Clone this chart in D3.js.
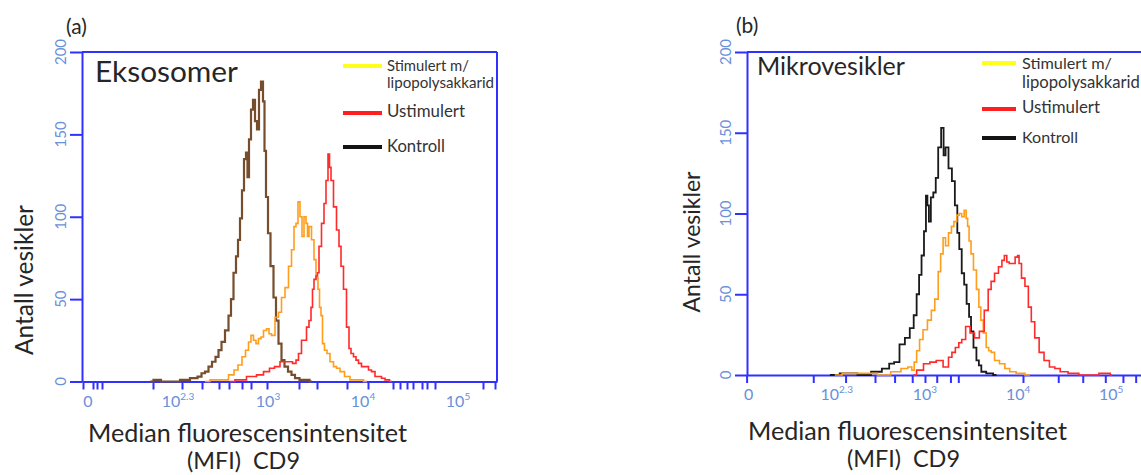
<!DOCTYPE html>
<html>
<head>
<meta charset="utf-8">
<script src="https://cdn.jsdelivr.net/npm/d3@7"></script>
<style>
  body { margin: 0; background: #fff; }
  svg { display: block; font-family: Lato, "Open Sans", sans-serif; }
</style>
</head>
<body>
<div class="chart"></div>
<script>
// x values are log10(MFI) positions on the display axis, n = antall vesikler

// (a) Eksosomer
const eksKontrollX = [1.82,1.89,1.97,2.07,2.17,2.27,2.32,2.35,2.39,2.42,2.46,2.49,2.52,2.55,2.59,2.62,2.64,2.67,2.69,2.71,2.73,2.75,2.77,2.79,2.80,2.82,2.84,2.86,2.88,2.90,2.92,2.94,2.96,2.97,2.99,3.01,3.04,3.07,3.09,3.12,3.15,3.18,3.22,3.25,3.29,3.34,3.39,3.44];
const eksKontrollN = [0,1,0,0,1,2,3,5,6,9,12,15,19,24,31,40,50,66,76,86,99,116,135,139,124,147,165,171,158,153,177,182,170,140,112,90,70,51,37,23,13,9,6,4,2,1,1,0];

const eksStimX = [2.37,2.47,2.57,2.64,2.68,2.72,2.76,2.79,2.82,2.84,2.87,2.89,2.92,2.94,2.97,3.00,3.02,3.05,3.09,3.12,3.15,3.19,3.22,3.25,3.27,3.29,3.31,3.33,3.35,3.37,3.39,3.40,3.42,3.45,3.47,3.49,3.51,3.52,3.54,3.55,3.58,3.60,3.64,3.67,3.70,3.74,3.79,3.85,3.92,3.99];
const eksStimN = [0,1,1,4,7,10,15,19,24,28,25,23,26,27,31,32,29,28,39,42,51,57,70,80,94,96,109,100,88,100,96,88,94,86,74,63,56,45,40,23,19,17,12,9,8,6,3,1,1,0];

const eksUstimX = [2.62,2.72,2.85,2.92,2.99,3.04,3.09,3.15,3.22,3.27,3.29,3.32,3.35,3.37,3.40,3.42,3.44,3.45,3.47,3.49,3.50,3.52,3.55,3.57,3.59,3.61,3.62,3.64,3.67,3.70,3.72,3.74,3.77,3.80,3.82,3.84,3.87,3.89,3.92,3.95,3.99,4.02,4.05,4.09,4.12,4.15,4.19,4.24];
const eksUstimN = [0,1,3,4,6,8,9,12,12,11,13,17,25,25,33,37,45,56,62,64,66,82,96,108,122,138,130,122,106,92,82,70,56,33,20,17,15,13,11,9,9,7,6,3,3,2,1,0];

// (b) Mikrovesikler
const mikKontrollX = [2.03,2.23,2.39,2.51,2.61,2.66,2.71,2.77,2.82,2.87,2.90,2.93,2.95,2.98,3.00,3.02,3.03,3.05,3.07,3.10,3.12,3.15,3.18,3.20,3.22,3.26,3.29,3.32,3.34,3.36,3.39,3.41,3.44,3.46,3.48,3.51,3.54,3.56,3.59,3.66,3.73];
const mikKontrollN = [0,1,0,2,4,7,8,19,23,29,37,50,62,74,89,111,105,95,110,113,122,141,153,136,141,128,120,105,88,78,63,56,44,36,27,17,9,6,2,1,0];

const mikStimX = [2.08,2.23,2.44,2.59,2.71,2.80,2.85,2.88,2.90,2.93,2.96,3.00,3.05,3.08,3.12,3.15,3.17,3.20,3.22,3.26,3.28,3.31,3.34,3.36,3.39,3.41,3.43,3.44,3.46,3.48,3.51,3.54,3.56,3.58,3.61,3.64,3.66,3.69,3.73,3.79,3.84,3.89,3.97,4.07];
const mikStimN = [0,1,1,0,2,4,5,3,8,15,22,28,34,40,47,64,75,85,80,88,92,95,99,100,98,102,97,92,83,75,65,53,42,34,26,17,15,14,9,7,4,2,1,0];

const mikUstimX = [2.88,2.95,3.02,3.08,3.15,3.22,3.26,3.29,3.33,3.36,3.39,3.44,3.48,3.53,3.58,3.63,3.66,3.69,3.73,3.77,3.80,3.82,3.85,3.87,3.90,3.94,3.95,3.97,4.00,4.04,4.07,4.10,4.14,4.19,4.24,4.30,4.35,4.41,4.51,4.63,4.73,4.82,4.87,4.91];
const mikUstimN = [0,3,7,8,9,5,11,14,17,20,22,30,26,23,27,40,53,58,63,67,71,74,70,69,69,73,74,69,60,55,42,33,23,14,9,5,4,2,1,0,0,1,1,0];

// akser
const yTicks = [0, 50, 100, 150, 200];
const xLabelValues = [1.2, 2.1, 3, 3.95, 4.9];
const xLabelBase = ["0", "10", "10", "10", "10"];
const xLabelExp = ["", "2.3", "3", "4", "5"];
const minorTicksA = [1.15,1.25,1.29,1.34,1.85,2.14,2.34,2.51,2.61,2.74,2.83,2.99,3.31,3.49,3.79,4.0,4.25,4.32,4.39,4.45,4.54,4.59,4.67,5.15,5.27];
const minorTicksB = [1.18,1.86,2.19,2.49,2.69,2.87,3.0,3.12,3.26,3.34,4.0,4.36,4.61,4.84,5.02,5.15];

// legende
const legendLabels = [["Stimulert m/", "lipopolysakkarid"], ["Ustimulert"], ["Kontroll"]];
const legendColors = ["#ffff1a", "#ff1f1f", "#141414"];

const axisBlue = "#3030ff";
const labelBlue = "#6a90da";
const textDark = "#262626";

const panels = [
  {
    tag: "(a)", title: "Eksosomer",
    left: 82, right: 497, top: 52, bottom: 381.5, domain: [1.14, 5.29],
    ticks: minorTicksA,
    series: [
      { x: eksKontrollX, n: eksKontrollN, color: "#774e2d", width: 2.2 },
      { x: eksStimX, n: eksStimN, color: "#ff9d1c", width: 1.6 },
      { x: eksUstimX, n: eksUstimN, color: "#ff2a2a", width: 1.6 }
    ],
    tagPos: [66, 34], titlePos: [95, 82, 143],
    legLine: [343, 382], legText: 387,
    legRows: [66, 113, 147], legBase: [[71, 88], [117], [152]], legWidths: [[82, 107], [78], [58]],
    yTitle: [33, 280, 24.5],
    xTitle: [[88, 442, 319], [187, 469, 113]]
  },
  {
    tag: "(b)", title: "Mikrovesikler",
    left: 747, right: 1149, top: 52, bottom: 375, domain: [1.184, 5.286],
    ticks: minorTicksB,
    series: [
      { x: mikKontrollX, n: mikKontrollN, color: "#1a1a1a", width: 1.8 },
      { x: mikStimX, n: mikStimN, color: "#ff9d1c", width: 1.6 },
      { x: mikUstimX, n: mikUstimN, color: "#ff2a2a", width: 1.6 }
    ],
    tagPos: [736, 33], titlePos: [757, 75, 148],
    legLine: [982, 1016], legText: 1022,
    legRows: [63, 109, 138], legBase: [[69, 88], [113], [143]], legWidths: [[90, 118], [78], [56]],
    yTitle: [700, 242, 23],
    xTitle: [[748, 440, 319], [847, 467, 113]]
  }
];

const svg = d3.select(".chart")
  .append("svg")
    .attr("width", 1141)
    .attr("height", 475);

// skriftstørrelse slik at teksten får gitt bredde
function fitWidth(sel, w) {
  sel.each(function() {
    const t = d3.select(this);
    const fs = parseFloat(t.style("font-size"));
    const len = this.getComputedTextLength();
    t.style("font-size", (fs * w / len).toFixed(2) + "px");
  });
}

function drawPanel(p) {
  const x = d3.scaleLinear().domain(p.domain).range([p.left, p.right]);
  const y = d3.scaleLinear().domain([0, 200]).range([p.bottom, p.top]);
  const g = svg.append("g");

  // x-akse
  const xAxis = g.append("g")
    .attr("transform", `translate(0,${p.bottom})`)
    .call(d3.axisBottom(x).tickValues(p.ticks).tickSize(8).tickSizeOuter(0).tickFormat(""));
  // y-akse
  const yAxis = g.append("g")
    .attr("transform", `translate(${p.left},0)`)
    .call(d3.axisLeft(y).tickValues(yTicks).tickSize(12).tickSizeOuter(0).tickFormat(""));
  [xAxis, yAxis].forEach(a => {
    a.select(".domain").attr("stroke", axisBlue).attr("stroke-width", 2);
    a.selectAll(".tick line").attr("stroke", axisBlue).attr("stroke-width", 2);
  });

  // ramme oppe og til høyre
  g.append("line")
    .attr("x1", p.left).attr("x2", p.right)
    .attr("y1", p.top).attr("y2", p.top)
    .attr("stroke", axisBlue).attr("stroke-width", 2);
  g.append("line")
    .attr("x1", p.right).attr("x2", p.right)
    .attr("y1", p.top).attr("y2", p.bottom)
    .attr("stroke", axisBlue).attr("stroke-width", 2);

  // y tick-tekst (rotert)
  g.selectAll(".ylab")
    .data(yTicks)
    .enter()
    .append("text")
    .attr("class", "ylab")
    .attr("transform", d => `translate(${p.left - 16},${y(d)}) rotate(-90)`)
    .attr("text-anchor", "middle")
    .attr("fill", labelBlue)
    .style("font-size", "15px")
    .text(d => d);

  // x tick-tekst med eksponent
  const xl = g.selectAll(".xlab")
    .data(xLabelValues)
    .enter()
    .append("text")
    .attr("class", "xlab")
    .attr("x", d => x(d))
    .attr("y", p.bottom + 25)
    .attr("text-anchor", "middle")
    .attr("fill", labelBlue)
    .style("font-size", "16px");
  xl.append("tspan").text((d, i) => xLabelBase[i]);
  xl.append("tspan")
    .attr("dy", -7)
    .style("font-size", "10px")
    .text((d, i) => xLabelExp[i]);

  // histogrammer
  const line = d3.line()
    .x(d => x(d[0]))
    .y(d => y(d[1]))
    .curve(d3.curveStep);
  p.series.forEach(s => {
    g.append("path")
      .datum(d3.zip(s.x, s.n))
      .attr("d", line)
      .attr("fill", "none")
      .attr("stroke", s.color)
      .attr("stroke-width", s.width)
      .attr("stroke-linejoin", "miter");
  });

  // panel-bokstav og tittel
  g.append("text")
    .attr("x", p.tagPos[0]).attr("y", p.tagPos[1])
    .attr("fill", textDark)
    .style("font-size", "21px")
    .text(p.tag);
  g.append("text")
    .attr("x", p.titlePos[0]).attr("y", p.titlePos[1])
    .attr("fill", textDark)
    .style("font-size", "24px")
    .text(p.title)
    .call(fitWidth, p.titlePos[2]);

  // legende
  legendLabels.forEach((lines, i) => {
    g.append("line")
      .attr("x1", p.legLine[0]).attr("x2", p.legLine[1])
      .attr("y1", p.legRows[i]).attr("y2", p.legRows[i])
      .attr("stroke", legendColors[i])
      .attr("stroke-width", 4);
    lines.forEach((txt, j) => {
      g.append("text")
        .attr("x", p.legText).attr("y", p.legBase[i][j])
        .attr("fill", "#333")
        .style("font-size", "14px")
        .text(txt)
        .call(fitWidth, p.legWidths[i][j]);
    });
  });

  // aksetitler
  g.append("text")
    .attr("transform", `translate(${p.yTitle[0]},${p.yTitle[1]}) rotate(-90)`)
    .attr("text-anchor", "middle")
    .attr("fill", textDark)
    .style("font-size", p.yTitle[2] + "px")
    .text("Antall vesikler");
  ["Median fluorescensintensitet", "(MFI)  CD9"].forEach((txt, i) => {
    g.append("text")
      .attr("x", p.xTitle[i][0]).attr("y", p.xTitle[i][1])
      .attr("fill", textDark)
      .attr("xml:space", "preserve")
      .style("white-space", "pre")
      .style("font-size", "22px")
      .text(txt)
      .call(fitWidth, p.xTitle[i][2]);
  });
}

panels.forEach(drawPanel);
</script>
</body>
</html>
